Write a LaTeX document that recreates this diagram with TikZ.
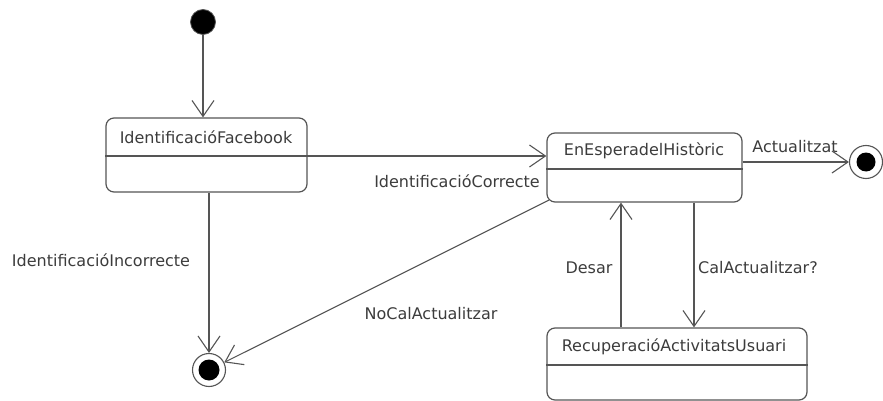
\documentclass[tikz,border=0pt]{standalone}
\usepackage{fontspec}
\setmainfont{DejaVu Sans}
\usetikzlibrary{arrows.meta,calc}
\definecolor{edge}{HTML}{555555}
\definecolor{ink}{HTML}{3C3C3C}
\tikzset{
  statebox/.style={draw=edge, line width=1.2pt, rounded corners=8pt, inner sep=0pt},
  divider/.style={draw=edge, line width=1.2pt},
  txt/.style={text=ink, font=\fontsize{16}{19}\selectfont, inner sep=0pt,
              text height=12pt, text depth=0pt},
  trans/.style={draw=edge, line width=1.1pt,
                -{Straight Barb[length=16pt,width=22pt,line width=1.1pt]}},
  initstate/.style={circle, fill=black, draw=edge, line width=0.8pt,
                    minimum size=25pt, inner sep=0pt},
  finalring/.style={circle, draw=edge, line width=1.1pt, fill=white,
                    minimum size=33pt, inner sep=0pt},
}
\begin{document}
\begin{tikzpicture}[x=1pt,y=-1pt]
\useasboundingbox (0,0) rectangle (883,401);

% states
\node[initstate] (init) at (203,22) {};

\node[statebox, minimum width=201pt, minimum height=74pt] (fb) at (206.5,155) {};
\node[txt] (fbt) at (206,137) {IdentificacióFacebook};
\draw[divider] ($(fb.west)+(0,1)$) -- ($(fb.east)+(0,1)$);

\node[statebox, minimum width=195pt, minimum height=69pt] (hist) at (644.5,167.5) {};
\node[txt] (histt) at (644,149) {EnEsperadelHistòric};
\draw[divider] ($(hist.west)+(0,1.5)$) -- ($(hist.east)+(0,1.5)$);

\node[statebox, minimum width=260pt, minimum height=72pt] (rec) at (677,364) {};
\node[txt] (rect) at (674,345) {RecuperacióActivitatsUsuari};
\draw[divider] ($(rec.west)+(0,1)$) -- ($(rec.east)+(0,1)$);

% final states
\node[finalring] (endr) at (866,162) {};
\fill (endr.center) circle (9.5pt);
\node[finalring] (endb) at (209,370) {};
\fill (endb.center) circle (10.5pt);

% transitions
\draw[trans] (init.south) -- (init.south |- fb.north);

\coordinate (c1) at ($(fb.east)+(0,1)$);
\draw[trans] (c1) -- (c1 -| hist.west);

\draw[trans] (fb.south -| endb.north) -- (endb.north);

\draw[trans] (hist.east |- endr.west) -- (endr.west);

\coordinate (dx) at (621,0);
\coordinate (cx) at (694,0);
\draw[trans] (rec.north -| dx) -- (hist.south -| dx);
\draw[trans] (hist.south -| cx) -- (rec.north -| cx);

\coordinate (nc) at ($(hist.south west)+(2.5,-2.5)$);
\draw[trans] (nc) -- (endb);

% transition labels
\node[txt] (l1) at (101,260) {IdentificacióIncorrecte};
\node[txt, anchor=east] (l2) at (540,181) {IdentificacióCorrecte};
\node[txt] (l3) at (431,313) {NoCalActualitzar};
\node[txt] (l4) at (589,267) {Desar};
\node[txt, anchor=west] (l5) at (698,267) {CalActualitzar?};
\node[txt] (l6) at (795,147) {Actualitzat};
\end{tikzpicture}
\end{document}
